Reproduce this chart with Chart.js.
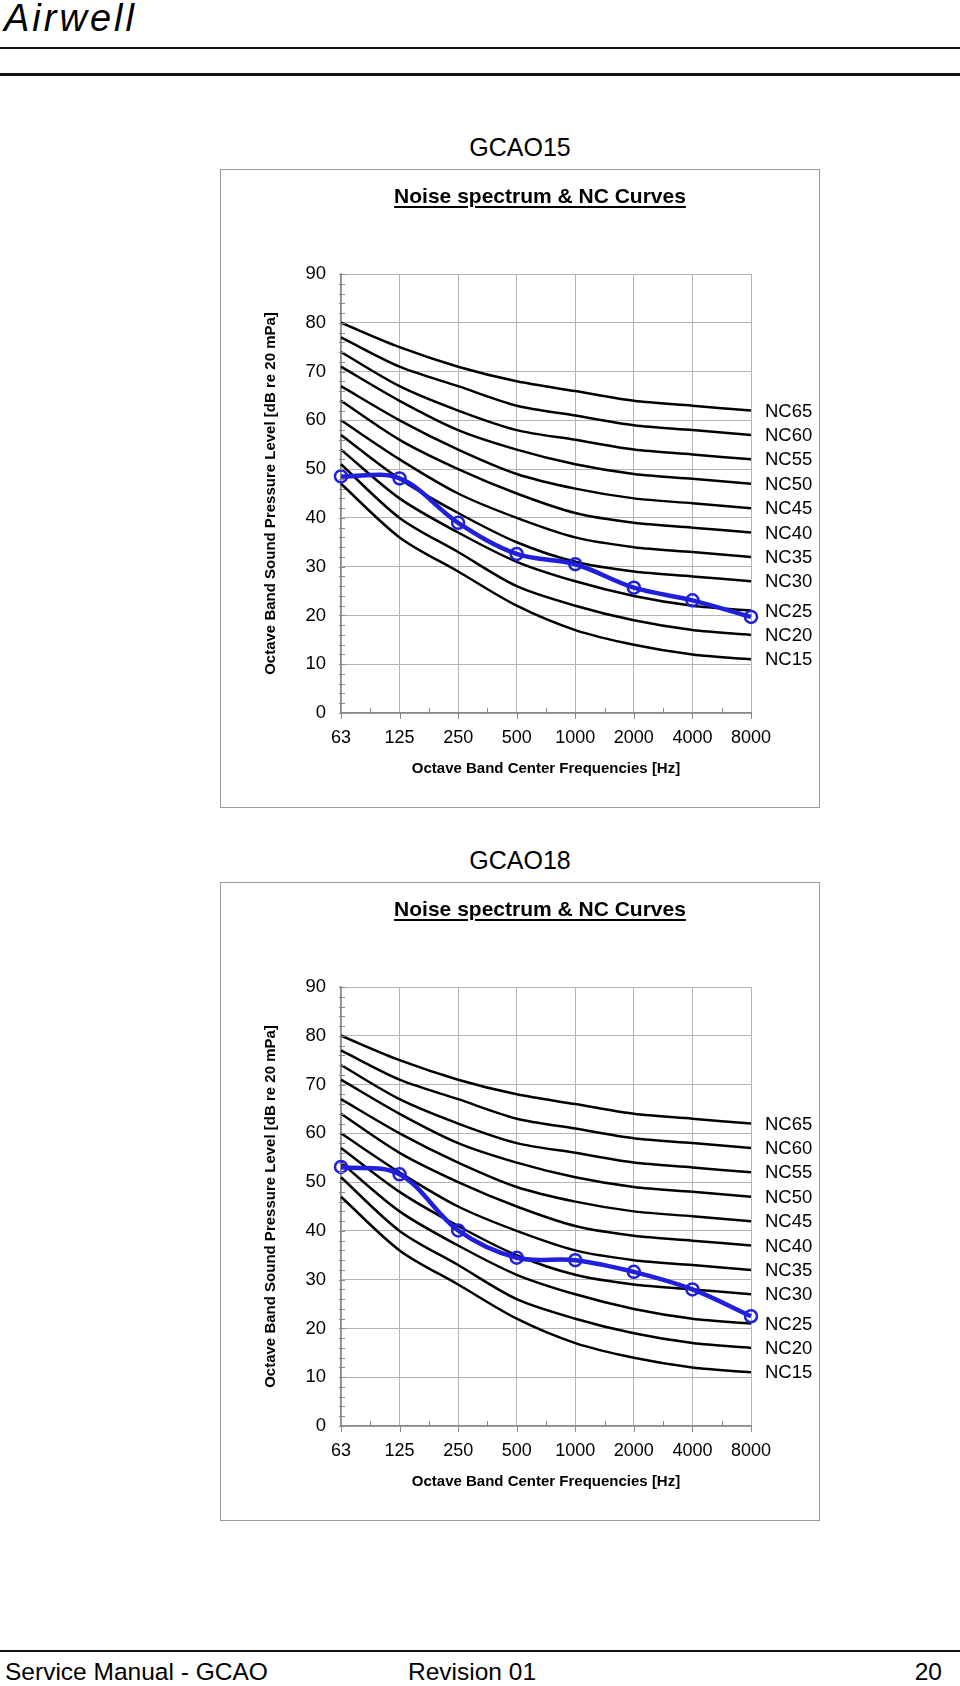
<!DOCTYPE html>
<html>
<head>
<meta charset="utf-8">
<script src="https://cdn.jsdelivr.net/npm/chart.js@4.4.1/dist/chart.umd.min.js"></script>
<style>
body{margin:0;width:960px;height:1686px;position:relative;background:#fff;font-family:"Liberation Sans",Arial,sans-serif;overflow:hidden;color:#000}
.rule{position:absolute;left:0;width:960px;background:#111}
.logo{position:absolute;left:4px;top:-2px;font-size:38px;font-style:italic;letter-spacing:3px;line-height:40px}
.model{position:absolute;left:420px;width:200px;text-align:center;font-size:25px;line-height:28px}
.box{position:absolute;left:220px;width:600px;height:639px;box-sizing:border-box;border:1px solid #9a9a9a}
.box canvas{position:absolute;left:0;top:0}
.ctitle{position:absolute;left:119px;top:14px;width:400px;text-align:center;font-weight:bold;font-size:21px;line-height:24px;text-decoration:underline;text-decoration-thickness:2px;text-underline-offset:3px}
.foot{position:absolute;top:1659px;font-size:24.5px;line-height:26px}
</style>
</head>
<body>
<div class="logo">Airwell</div>
<div class="rule" style="top:47px;height:2px"></div>
<div class="rule" style="top:73px;height:3px"></div>

<div class="model" style="top:133px">GCAO15</div>
<div class="box" style="top:169px">
  <canvas id="chart15" width="598" height="637"></canvas>
  <div class="ctitle">Noise spectrum &amp; NC Curves</div>
</div>

<div class="model" style="top:846px">GCAO18</div>
<div class="box" style="top:882px">
  <canvas id="chart18" width="598" height="637"></canvas>
  <div class="ctitle">Noise spectrum &amp; NC Curves</div>
</div>

<div class="rule" style="top:1650px;height:2px"></div>
<div class="foot" style="left:5px">Service Manual - GCAO</div>
<div class="foot" style="left:408px">Revision 01</div>
<div class="foot" style="right:18px">20</div>

<script>
// octave band centre frequencies (Hz)
var freqLabels = ['63', '125', '250', '500', '1000', '2000', '4000', '8000'];

// NC reference curves, dB per octave band
var nc15 = [47, 36, 29, 22, 17, 14, 12, 11];
var nc20 = [51, 40, 33, 26, 22, 19, 17, 16];
var nc25 = [54, 44, 37, 31, 27, 24, 22, 21];
var nc30 = [57, 48, 41, 35, 31, 29, 28, 27];
var nc35 = [60, 52, 45, 40, 36, 34, 33, 32];
var nc40 = [64, 56, 50, 45, 41, 39, 38, 37];
var nc45 = [67, 60, 54, 49, 46, 44, 43, 42];
var nc50 = [71, 64, 58, 54, 51, 49, 48, 47];
var nc55 = [74, 67, 62, 58, 56, 54, 53, 52];
var nc60 = [77, 71, 67, 63, 61, 59, 58, 57];
var nc65 = [80, 75, 71, 68, 66, 64, 63, 62];
var ncNames = ['NC15', 'NC20', 'NC25', 'NC30', 'NC35', 'NC40', 'NC45', 'NC50', 'NC55', 'NC60', 'NC65'];
var ncValues = [nc15, nc20, nc25, nc30, nc35, nc40, nc45, nc50, nc55, nc60, nc65];

var gcao15Spectrum = [48.5, 48.1, 39.0, 32.6, 30.5, 25.7, 23.1, 19.7];
var gcao18Spectrum = [53.1, 51.6, 40.1, 34.5, 34.0, 31.6, 28.0, 22.5];

// y axis range
var yMin = 0, yMax = 90, yStep = 10, yMinorStep = 2;

var FONT = '"Liberation Sans", Arial, sans-serif';
var BLUE = '#1f1fdc';
var AXIS = '#8a8a8a';
var GRID = '#b4b4b4';

// minor ticks + NC labels at the end of each curve
var extras = {
	id: 'extras',
	afterDraw: function(chart) {
		var ctx = chart.ctx;
		var area = chart.chartArea;
		var xs = chart.scales.x, ys = chart.scales.y;
		ctx.save();
		ctx.strokeStyle = AXIS;
		ctx.lineWidth = 1;
		ctx.beginPath();
		for (var v = yMin; v <= yMax; v += yMinorStep) {
			var py = Math.round(ys.getPixelForValue(v)) + 0.5;
			ctx.moveTo(area.left - 2, py);
			ctx.lineTo(area.left + 4, py);
		}
		for (var i = 0; i < freqLabels.length; i++) {
			var px = Math.round(xs.getPixelForValue(i)) + 0.5;
			ctx.moveTo(px, area.bottom);
			ctx.lineTo(px, area.bottom + 6);
			if (i < freqLabels.length - 1) {
				var mx = Math.round((xs.getPixelForValue(i) + xs.getPixelForValue(i + 1)) / 2) + 0.5;
				ctx.moveTo(mx, area.bottom - 5);
				ctx.lineTo(mx, area.bottom + 1);
			}
		}
		ctx.stroke();

		ctx.fillStyle = '#000';
		ctx.font = '18.5px ' + FONT;
		ctx.textAlign = 'left';
		ctx.textBaseline = 'middle';
		chart.data.datasets.forEach(function(ds, idx) {
			if (ds.label.indexOf('NC') !== 0) return;
			var pts = chart.getDatasetMeta(idx).data;
			var last = pts[pts.length - 1];
			ctx.fillText(ds.label, area.right + 14, last.y + 1);
		});
		ctx.restore();
	}
};

var makeChart = function(id, spectrum) {
	var datasets = [{
		label: 'Spectrum',
		data: spectrum,
		borderColor: BLUE,
		borderWidth: 4.5,
		tension: 0.35,
		pointRadius: 6,
		pointHoverRadius: 6,
		pointBorderWidth: 2.5,
		pointBorderColor: BLUE,
		pointBackgroundColor: 'rgba(0,0,0,0)',
		order: 0
	}];
	for (var i = 0; i < ncNames.length; i++) {
		datasets.push({
			label: ncNames[i],
			data: ncValues[i],
			borderColor: '#000',
			borderWidth: 2.5,
			tension: 0.3,
			pointRadius: 0,
			order: 1
		});
	}

	var ctx = document.getElementById(id).getContext('2d');
	return new Chart(ctx, {
		type: 'line',
		data: { labels: freqLabels, datasets: datasets },
		plugins: [extras],
		options: {
			responsive: false,
			animation: false,
			events: [],
			layout: { padding: { left: 0, right: 68, top: 104, bottom: 14 } },
			plugins: { legend: { display: false }, tooltip: { enabled: false } },
			scales: {
				x: {
					type: 'category',
					offset: false,
					grid: { color: GRID, lineWidth: 1, drawTicks: false },
					border: { color: AXIS, width: 1.5 },
					ticks: { color: '#000', font: { family: FONT, size: 18 }, padding: 14.5, autoSkip: false, maxRotation: 0 },
					title: {
						display: true,
						text: 'Octave Band Center Frequencies [Hz]',
						color: '#000',
						font: { family: FONT, size: 15, weight: 'bold' },
						padding: { top: 0, bottom: 15 }
					},
					afterFit: function(s) { s.height = 80; }
				},
				y: {
					min: yMin,
					max: yMax,
					grid: { color: GRID, lineWidth: 1, drawTicks: false },
					border: { color: AXIS, width: 1.5 },
					ticks: { stepSize: yStep, color: '#000', font: { family: FONT, size: 18.5 }, padding: 15 },
					title: {
						display: true,
						text: 'Octave Band Sound Pressure Level [dB re 20 mPa]',
						color: '#000',
						font: { family: FONT, size: 15, weight: 'bold' },
						padding: { top: 41, bottom: 0 }
					},
					afterFit: function(s) { s.width = 120; }
				}
			}
		}
	});
};

makeChart('chart15', gcao15Spectrum);
makeChart('chart18', gcao18Spectrum);
</script>
</body>
</html>
